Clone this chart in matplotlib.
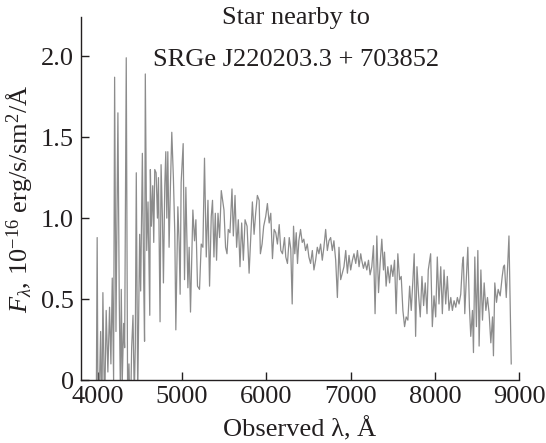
import numpy as np
import matplotlib
matplotlib.use("Agg")
from matplotlib import pyplot as plt

plt.rcParams['font.family'] = ['Liberation Serif', 'DejaVu Serif']
plt.rcParams['mathtext.fontset'] = 'custom'
plt.rcParams['mathtext.rm'] = 'Liberation Serif'
plt.rcParams['mathtext.it'] = 'Liberation Serif:italic'

# spectrum (wavelength in A, flux in 1e-16 erg/s/sm2/A)
wave = [3980, 3994, 4006, 4035, 4048, 4062, 4082, 4101, 4121, 4141, 4157, 4173, 4189,
        4201, 4217, 4240, 4256, 4270, 4280, 4292, 4308, 4320, 4339, 4356, 4371, 4387,
        4403, 4419, 4434, 4446, 4458, 4475, 4487, 4498, 4510, 4530, 4546, 4556, 4565,
        4582, 4597, 4609, 4618, 4625, 4637, 4653, 4665, 4677, 4693, 4709, 4721, 4740,
        4752, 4768, 4780, 4796, 4808, 4820, 4832, 4847, 4863, 4879, 4898, 4915, 4927,
        4951, 4966, 4978, 4990, 5014, 5030, 5046, 5070, 5085, 5101, 5129, 5149, 5165,
        5184, 5208, 5228, 5248, 5267, 5288, 5308, 5327, 5347, 5362, 5379, 5395, 5410,
        5427, 5446, 5466, 5498, 5517, 5534, 5549, 5569, 5593, 5609, 5629, 5648, 5668,
        5688, 5708, 5728, 5748, 5772, 5796, 5815, 5835, 5855, 5874, 5894, 5915, 5930,
        5950, 5969, 5993, 6013, 6034, 6053, 6073, 6093, 6112, 6132, 6153, 6172, 6192,
        6216, 6231, 6251, 6272, 6290, 6307, 6323, 6338, 6355, 6370, 6386, 6406, 6426,
        6445, 6466, 6486, 6505, 6525, 6546, 6565, 6585, 6605, 6624, 6644, 6664, 6683,
        6704, 6724, 6743, 6763, 6783, 6802, 6823, 6843, 6862, 6882, 6902, 6921, 6942,
        6962, 6981, 7001, 7021, 7040, 7061, 7081, 7100, 7120, 7132, 7152, 7171, 7192,
        7212, 7231, 7251, 7271, 7290, 7311, 7331, 7350, 7370, 7390, 7402, 7421, 7441,
        7462, 7481, 7501, 7521, 7540, 7560, 7581, 7600, 7620, 7640, 7659, 7679, 7700,
        7719, 7739, 7754, 7771, 7787, 7807, 7826, 7846, 7866, 7885, 7906, 7921, 7949,
        7969, 7989, 8009, 8028, 8048, 8069, 8088, 8108, 8128, 8147, 8167, 8188, 8207,
        8227, 8247, 8266, 8286, 8306, 8326, 8337, 8354, 8370, 8390, 8409, 8425, 8445,
        8457, 8473, 8492, 8509, 8524, 8545, 8564, 8584, 8604, 8623, 8643, 8663, 8683,
        8694, 8710, 8730, 8750, 8774, 8798, 8813, 8825, 8846, 8878, 8905]
flux = [-0.5, 0.88, -0.4, 0.3, -0.3, 0.54, -0.2, 0.43, 0.05, 0.45, 0.1, 0.63, 0.0,
        1.87, 0.3, 1.65, 0.5, -0.1, 0.56, 0.0, 0.35, 0.2, 1.99, -0.2, 0.1, -0.3,
        0.2, 0.40, -0.1, 0.2, 1.28, -0.1, 0.45, 0.9, 0.55, 1.40, 0.6, 0.24, 1.89,
        0.8, 1.1, 0.7, 0.40, 1.3, 0.95, 1.2, 0.85, 1.3, 1.28, 1.0, 1.25, 0.36,
        1.33, 1.0, 0.6, 1.2, 1.41, 1.0, 1.41, 0.82, 1.2, 1.53, 1.25, 0.9, 0.31,
        1.07, 0.85, 0.53, 1.22, 1.46, 0.62, 1.19, 0.57, 0.82, 0.42, 1.05, 0.86, 0.99,
        0.58, 0.56, 0.84, 0.82, 1.37, 0.76, 1.11, 0.58, 1.01, 1.11, 0.76, 1.03, 0.74,
        1.03, 0.88, 1.17, 1.05, 0.82, 0.78, 0.93, 0.91, 1.18, 0.89, 1.14, 0.82, 0.99,
        0.70, 0.97, 0.74, 0.99, 0.95, 0.66, 0.88, 1.10, 0.90, 1.03, 1.14, 1.11, 0.78,
        0.84, 0.95, 1.01, 1.09, 0.97, 1.03, 0.75, 0.93, 0.91, 0.84, 0.96, 0.80, 0.78,
        0.88, 0.76, 0.72, 0.88, 0.81, 0.47, 0.95, 0.78, 0.91, 0.72, 0.86, 0.93, 0.85,
        0.87, 0.80, 0.84, 0.76, 0.72, 0.80, 0.68, 0.74, 0.82, 0.78, 0.84, 0.74, 0.82,
        0.93, 0.80, 0.86, 0.88, 0.80, 0.86, 0.74, 0.51, 0.82, 0.62, 0.66, 0.70, 0.80,
        0.66, 0.77, 0.68, 0.74, 0.78, 0.72, 0.80, 0.70, 0.78, 0.74, 0.69, 0.73, 0.68,
        0.74, 0.65, 0.70, 0.83, 0.41, 0.89, 0.54, 0.72, 0.87, 0.68, 0.79, 0.58, 0.70,
        0.60, 0.71, 0.64, 0.74, 0.41, 0.78, 0.62, 0.64, 0.43, 0.33, 0.39, 0.37, 0.58,
        0.43, 0.62, 0.78, 0.27, 0.70, 0.52, 0.39, 0.64, 0.46, 0.60, 0.41, 0.68, 0.78,
        0.33, 0.52, 0.39, 0.76, 0.47, 0.70, 0.41, 0.68, 0.47, 0.64, 0.43, 0.51, 0.43,
        0.49, 0.45, 0.51, 0.47, 0.53, 0.72, 0.76, 0.41, 0.60, 0.82, 0.45, 0.27, 0.43,
        0.17, 0.76, 0.33, 0.80, 0.21, 0.68, 0.37, 0.60, 0.43, 0.51, 0.41, 0.23, 0.39,
        0.15, 0.60, 0.48, 0.56, 0.52, 0.64, 0.70, 0.71, 0.51, 0.89, 0.10]

xticks = [4000, 5000, 6000, 7000, 8000, 9000]
yticks = [0, 0.5, 1.0, 1.5, 2.0]
ytick_labels = ['0', '0.5', '1.0', '1.5', '2.0']

fig = plt.figure(figsize=(5.46, 4.43), dpi=100)
ax = fig.add_axes([0.148, 0.142, 0.803, 0.819])

ax.plot(wave, flux, color='#8c8c8c', lw=0.9)

ax.set_xlim(3800, 9000)
ax.set_ylim(0, 2.24)
ax.set_xticks(xticks)
ax.set_yticks(yticks)
ax.set_yticklabels(ytick_labels)
ax.tick_params(direction='in', length=6, width=1, labelsize=19, pad=4, colors='#231f20')
ax.tick_params(axis='y', pad=5)

for s in ['top', 'right']:
    ax.spines[s].set_visible(False)
for s in ['left', 'bottom']:
    ax.spines[s].set_linewidth(1.0)
    ax.spines[s].set_color('#231f20')

ax.set_xlabel('Observed λ, Å', fontsize=19, labelpad=7, color='#231f20')
ax.set_ylabel(r'$F_\lambda$, 10$^{-16}$ erg/s/sm$^2$/Å', fontsize=19, labelpad=4, color='#231f20')

fig.text(0.542, 0.946, 'Star nearby to', fontsize=19, ha='center', va='baseline', color='#231f20')
fig.text(0.542, 0.851, 'SRGe J220203.3 + 703852', fontsize=19, ha='center', va='baseline', color='#231f20')

fig.savefig('out.png', dpi=100)
